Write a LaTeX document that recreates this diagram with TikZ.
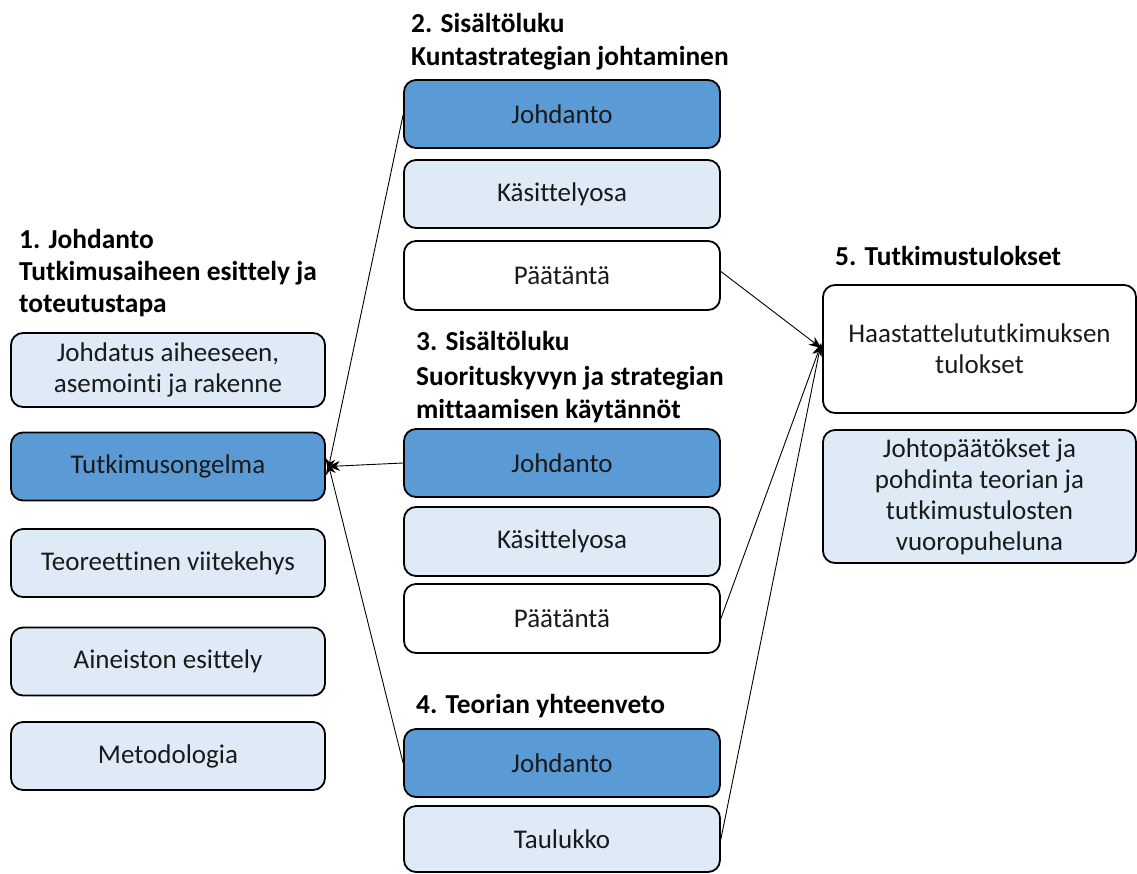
\documentclass[tikz,border=0pt]{standalone}
\usepackage{fontspec}
\setmainfont{Carlito}[Ligatures=NoCommon]
\usetikzlibrary{arrows.meta}
\definecolor{dblue}{HTML}{5B9BD5}
\definecolor{lblue}{HTML}{DEEBF7}
\definecolor{ink}{HTML}{1A1A1A}
\tikzset{
  box/.style={draw=black, line width=1.8pt, rounded corners=12pt, inner sep=0pt,
    align=center, text=ink, font=\fontsize{27}{31}\selectfont},
  lbox/.style={box, minimum width=314pt, minimum height=68pt},
  mbox/.style={box, minimum width=316pt, minimum height=68pt},
  dark/.style={fill=dblue},
  light/.style={fill=lblue},
  plain/.style={fill=white},
  head/.style={anchor=base west, inner sep=0pt, text=black,
    font=\fontsize{27.4}{31}\selectfont\bfseries},
  arr/.style={-{Stealth[length=12pt,width=10pt]}, line width=0.9pt, black}
}
\begin{document}
\begin{tikzpicture}[x=1pt,y=-1pt]
\useasboundingbox (0,0) rectangle (1137,873);

% column 1: introduction
\node[head] (h1a) at (19,248) {1. Johdanto};
\node[head] (h1b) at (19,280) {Tutkimusaiheen esittely ja};
\node[head] (h1c) at (19,312) {toteutustapa};
\node[lbox,light, minimum height=74pt] (l1) at (168,370) {Johdatus aiheeseen,\\asemointi ja rakenne};
\node[lbox,dark] (l2) at (168,466.5) {Tutkimusongelma};
\node[lbox,light] (l3) at (168,563) {Teoreettinen viitekehys};
\node[lbox,light] (l4) at (168,661.5) {Aineiston esittely};
\node[lbox,light] (l5) at (168,756) {Metodologia};

% column 2: content chapters
\node[head] (h2a) at (411,32) {2. Sisältöluku};
\node[head] (h2b) at (411,65) {Kuntastrategian johtaminen};
\node[mbox,dark] (m1) at (562,114) {Johdanto};
\node[mbox,light] (m2) at (562,194) {Käsittelyosa};
\node[mbox,plain, minimum height=69pt] (m3) at (562,275.5) {Päätäntä};

\node[head] (h3a) at (416,350) {3. Sisältöluku};
\node[head] (h3b) at (416,385) {Suorituskyvyn ja strategian};
\node[head] (h3c) at (416,418) {mittaamisen käytännöt};
\node[mbox,dark] (m4) at (562,463) {Johdanto};
\node[mbox,light, minimum height=69pt] (m5) at (562,541.5) {Käsittelyosa};
\node[mbox,plain, minimum height=69pt] (m6) at (562,618.5) {Päätäntä};

\node[head] (h4) at (416,713) {4. Teorian yhteenveto};
\node[mbox,dark] (m7) at (562,763) {Johdanto};
\node[mbox,light, minimum height=66pt] (m8) at (562,839) {Taulukko};

% column 3: results
\node[head] (h5) at (835,265) {5. Tutkimustulokset};
\node[box,plain, minimum width=313pt, minimum height=128pt] (r1) at (979.5,349) {Haastattelututkimuksen\\tulokset};
\node[box,light, minimum width=313pt, minimum height=133pt] (r2) at (979.5,496.5) {Johtopäätökset ja\\pohdinta teorian ja\\tutkimustulosten\\vuoropuheluna};

% connectors
\draw[arr] ([yshift=-1pt]m1.west) -- ([xshift=2pt,yshift=-4pt]l2.east);
\draw[arr] (m4.west) -- ([xshift=2pt,yshift=0pt]l2.east);
\draw[arr] (m7.west) -- ([xshift=2pt,yshift=4pt]l2.east);
\draw[arr] ([yshift=4pt]m3.east) -- ([xshift=-1pt,yshift=1pt]r1.west);
\draw[arr] (m6.east) -- ([xshift=-1pt,yshift=5pt]r1.west);
\draw[arr] (m8.east) -- ([xshift=-1pt,yshift=6pt]r1.west);
\end{tikzpicture}
\end{document}
